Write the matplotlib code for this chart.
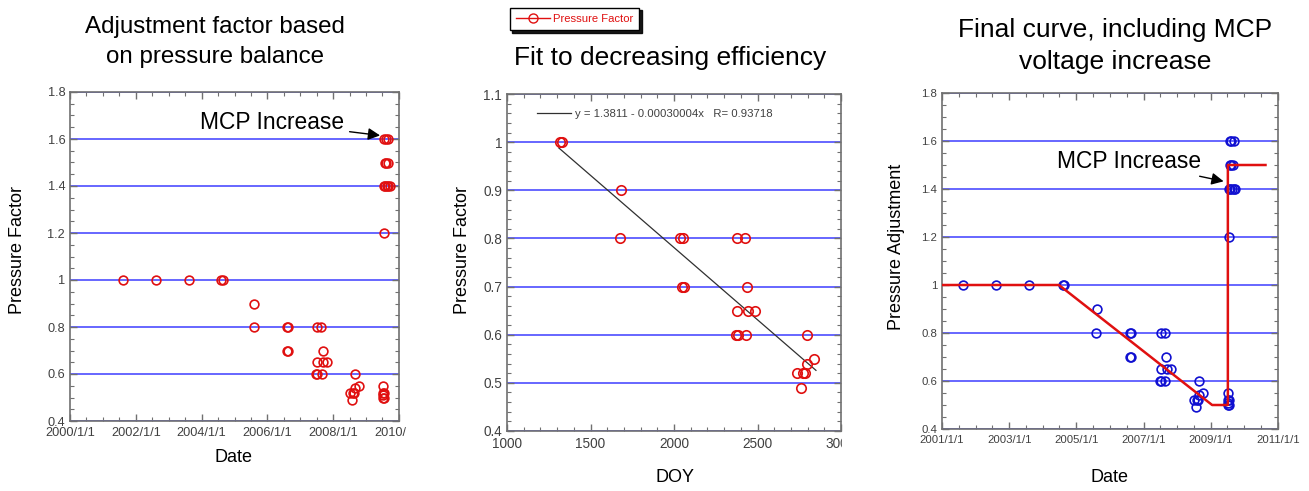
import matplotlib
matplotlib.use('Agg')
import matplotlib.pyplot as plt
import matplotlib.dates as mdates
from matplotlib.lines import Line2D
from matplotlib.patches import Rectangle
from matplotlib.ticker import MultipleLocator, FormatStrFormatter, FuncFormatter
import pandas as pd

plt.rcParams['font.family'] = ['Liberation Sans', 'DejaVu Sans']

# day counted from 2001/1/1 and the pressure factor on that day
doy = [226, 588, 950, 1315, 1328, 1681, 1675, 2038, 2052, 2048, 2058,
       2375, 2425, 2438, 2375, 2444, 2488, 2369, 2381, 2429,
       2738, 2772, 2782, 2762, 2796, 2798, 2841,
       3105, 3110, 3118, 3112, 3108, 3115, 3115,
       3120, 3135, 3150, 3170, 3185, 3130, 3145, 3160, 3125, 3145, 3170]
pfactor = [1.0, 1.0, 1.0, 1.0, 1.0, 0.9, 0.8, 0.8, 0.8, 0.7, 0.7,
           0.8, 0.8, 0.7, 0.65, 0.65, 0.65, 0.6, 0.6, 0.6,
           0.52, 0.52, 0.52, 0.49, 0.6, 0.54, 0.55,
           0.55, 0.52, 0.52, 0.51, 0.5, 0.5, 1.2,
           1.4, 1.4, 1.4, 1.4, 1.4, 1.5, 1.5, 1.5, 1.6, 1.6, 1.6]

# linear fit shown in the middle panel
fit_intercept = 1.3811
fit_slope = -0.00030004
fit_R = 0.93718
fit_range = [1310, 2850]

# final adjustment curve (right panel)
curve_dates = ['2001-01-01', '2004-06-25', '2009-01-15', '2009-07-05', '2009-07-05', '2010-08-18']
curve_vals = [1.0, 1.0, 0.5, 0.5, 1.5, 1.5]

left_ticks = ['2000-01-01', '2002-01-01', '2004-01-01', '2006-01-01', '2008-01-01', '2010-01-01']
right_ticks = ['2001-01-01', '2003-01-01', '2005-01-01', '2007-01-01', '2009-01-01', '2011-01-01']

dates = pd.Timestamp('2001-01-01') + pd.to_timedelta(doy, unit='D')

W, H = 1309, 491
fig = plt.figure(figsize=(W / 100, H / 100), dpi=100)


def box(x0, y0, x1, y1):
    # pixel box -> figure fraction
    return [x0 / W, 1 - y1 / H, (x1 - x0) / W, (y1 - y0) / H]


def style(ax, lsize):
    for s in ax.spines.values():
        s.set_color('#707070')
        s.set_linewidth(1.2)
    ax.tick_params(which='both', direction='in', top=True, right=True,
                   colors='#707070', labelcolor='#404040', labelsize=lsize)
    ax.tick_params(which='major', length=5, width=1)
    ax.tick_params(which='minor', length=3, width=0.8)
    ax.tick_params(axis='x', pad=4.5)
    ax.grid(axis='y', color='#5a5aff', lw=1.3)
    ax.set_axisbelow(True)


def date_fmt(x, pos):
    d = mdates.num2date(x)
    return f"{d.year}/{d.month}/{d.day}"


arrow = dict(arrowstyle='-|>', color='black', lw=1, mutation_scale=18, shrinkA=2, shrinkB=0)

# ---- left panel
ax1 = fig.add_axes(box(70, 92, 399, 421))
ax1.plot(dates, pfactor, 'o', ms=6.3, mfc='none', mec='#e01010', mew=1.2, zorder=3)
ax1.set_xlim(pd.Timestamp('2000-01-01'), pd.Timestamp('2010-01-01'))
ax1.set_ylim(0.4, 1.8)
ax1.set_xticks(pd.to_datetime(left_ticks))
ax1.xaxis.set_major_formatter(FuncFormatter(date_fmt))
ax1.xaxis.set_minor_locator(mdates.MonthLocator(bymonth=[1, 7]))
ax1.yaxis.set_major_locator(MultipleLocator(0.2))
ax1.yaxis.set_minor_locator(MultipleLocator(0.05))
ax1.yaxis.set_major_formatter(FormatStrFormatter('%g'))
style(ax1, 9.2)
ax1.annotate('MCP Increase', xy=(pd.Timestamp('2009-06-05'), 1.615),
             xytext=(pd.Timestamp('2008-05-01'), 1.672), ha='right', va='center',
             fontsize=16.4, arrowprops=arrow)
fig.text(18 / W, 1 - 250 / H, 'Pressure Factor', rotation=90, ha='center', va='center', fontsize=13)
fig.text(234 / W, 1 - 458 / H, 'Date', ha='center', va='center', fontsize=13)
fig.text(215 / W, 1 - 42 / H, 'Adjustment factor based\non pressure balance',
         ha='center', va='center', fontsize=17.4, linespacing=1.5)

# ---- middle panel
ax2 = fig.add_axes(box(507, 94, 841, 431))
ax2.plot(doy, pfactor, 'o', ms=6.8, mfc='none', mec='#e01010', mew=1.2, zorder=3)
fx = fit_range
fy = [fit_intercept + fit_slope * x for x in fx]
fit_line, = ax2.plot(fx, fy, color='#303030', lw=0.9, zorder=2)
ax2.set_xlim(1000, 3000)
ax2.set_ylim(0.4, 1.1)
ax2.xaxis.set_major_locator(MultipleLocator(500))
ax2.xaxis.set_minor_locator(MultipleLocator(100))
ax2.yaxis.set_major_locator(MultipleLocator(0.1))
ax2.yaxis.set_minor_locator(MultipleLocator(0.02))
ax2.yaxis.set_major_formatter(FormatStrFormatter('%g'))
style(ax2, 9.8)
leg = ax2.legend([fit_line], [f'y = {fit_intercept} - {abs(fit_slope):.8f}x   R= {fit_R}'],
                 loc='upper left', bbox_to_anchor=(0.06, 0.985), frameon=False,
                 fontsize=8.2, handlelength=3.0, handletextpad=0.3)
for t in leg.get_texts():
    t.set_color('#404040')
fig.text(462 / W, 1 - 250 / H, 'Pressure Factor', rotation=90, ha='center', va='center', fontsize=13)
fig.text(675 / W, 1 - 478 / H, 'DOY', ha='center', va='center', fontsize=13)
fig.text(670 / W, 1 - 58 / H, 'Fit to decreasing efficiency', ha='center', va='center', fontsize=19)
h = Line2D([], [], color='#e01010', marker='o', mfc='none', mec='#e01010', ms=6.5, lw=1)
fl = fig.legend([h], ['Pressure Factor'], loc='upper left', bbox_to_anchor=(504 / W, 1 - 2 / H),
                frameon=True, fancybox=False, shadow={'color': 'black', 'alpha': 0.9},
                fontsize=8.1, edgecolor='black', handlelength=3.0, handletextpad=0.3,
                borderpad=0.55)
fl.get_frame().set_linewidth(1)
for t in fl.get_texts():
    t.set_color('#e01010')

# ---- right panel
ax3 = fig.add_axes(box(942, 93, 1278, 429))
ax3.plot(dates, pfactor, 'o', ms=6.3, mfc='none', mec='#1010d0', mew=1.2, zorder=3)
ax3.plot(pd.to_datetime(curve_dates), curve_vals, color='#e01010', lw=1.8, zorder=4)
ax3.set_xlim(pd.Timestamp('2001-01-01'), pd.Timestamp('2011-01-01'))
ax3.set_ylim(0.4, 1.8)
ax3.set_xticks(pd.to_datetime(right_ticks))
ax3.xaxis.set_major_formatter(FuncFormatter(date_fmt))
ax3.xaxis.set_minor_locator(mdates.MonthLocator(bymonth=[1, 7]))
ax3.yaxis.set_major_locator(MultipleLocator(0.2))
ax3.yaxis.set_minor_locator(MultipleLocator(0.05))
ax3.yaxis.set_major_formatter(FormatStrFormatter('%g'))
style(ax3, 8.2)
ax3.annotate('MCP Increase', xy=(pd.Timestamp('2009-05-20'), 1.432),
             xytext=(pd.Timestamp('2008-09-20'), 1.515), ha='right', va='center',
             fontsize=16.4, arrowprops=arrow)
fig.text(897 / W, 1 - 247 / H, 'Pressure Adjustment', rotation=90, ha='center', va='center', fontsize=13)
fig.text(1110 / W, 1 - 478 / H, 'Date', ha='center', va='center', fontsize=13)
fig.text(1115 / W, 1 - 46 / H, 'Final curve, including MCP\nvoltage increase',
         ha='center', va='center', fontsize=19, linespacing=1.4)

# the source images were cropped: hide the cut-off part of the last tick labels
fig.add_artist(Rectangle((406 / W, 1 - 452 / H), 50 / W, 28 / H, transform=fig.transFigure,
                         color='white', zorder=10))
fig.add_artist(Rectangle((841.5 / W, 1 - 462 / H), 30 / W, 28 / H, transform=fig.transFigure,
                         color='white', zorder=10))

fig.savefig('out.png', dpi=100)
